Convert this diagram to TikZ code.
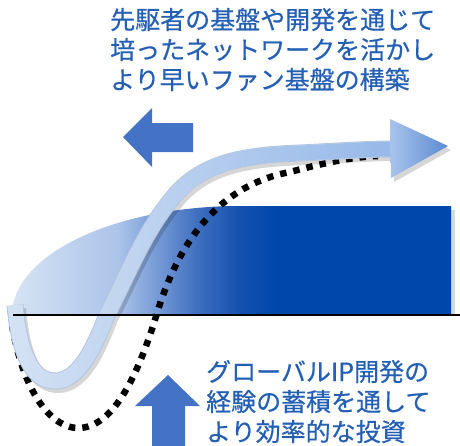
\documentclass[tikz,border=0pt]{standalone}
\usepackage{fontspec}
\newfontfamily\jp[FakeBold=0.5]{Noto Sans CJK JP}
\usetikzlibrary{fadings}
\definecolor{txtblue}{RGB}{35,95,180}
\definecolor{arrblue}{RGB}{68,114,196}
\definecolor{deepblue}{RGB}{0,71,171}
\definecolor{ca}{RGB}{214,227,244}
\definecolor{cb}{RGB}{172,196,233}
\definecolor{cc}{RGB}{124,159,216}
\definecolor{cd}{RGB}{64,112,192}
\definecolor{ce}{RGB}{20,80,176}
\definecolor{bandlight}{RGB}{212,226,244}
\definecolor{bandedge}{RGB}{180,197,222}
\definecolor{banddark}{RGB}{150,184,233}
\definecolor{headl}{RGB}{168,196,236}
\definecolor{headr}{RGB}{92,138,210}
\pgfdeclarehorizontalshading{areashade}{100bp}{color(0bp)=(ca); color(25bp)=(ca); color(37bp)=(cb); color(41bp)=(cc); color(46bp)=(cd); color(51bp)=(ce); color(55bp)=(deepblue); color(100bp)=(deepblue)}
\tikzfading[name=fadein, left color=transparent!100, right color=transparent!0]
\tikzset{
  jptext/.style={anchor=base west, inner sep=0pt, text=txtblue, font=\jp\fontsize{25}{30}\selectfont},
  bandpath/.style={insert path={(15,305) .. controls (20,360) and (35,381) .. (55,381) .. controls (80,381) and (95,345) .. (107,315) .. controls (130,270) and (145,230) .. (175,195) .. controls (205,160) and (250,155) .. (300,153) .. controls (340,151) and (370,149) .. (392,149)}},
  headpath/.style={insert path={(390,119) -- (448,146) -- (391,178) -- cycle}},
  dotline/.style={line width=6.5pt, dash pattern=on 6.5pt off 7pt, black},
  flatarrow/.style={fill=arrblue}
}
\begin{document}
\begin{tikzpicture}[x=1pt,y=-1pt]
\useasboundingbox (0,0) rectangle (460,445);
\clip (0,0) rectangle (460,445);
% blue area
\shade[shading=areashade] (12,315) .. controls (12,255) and (114,206) .. (240,206) -- (451,206) -- (451,315) -- cycle;
\fill[black,opacity=0.15] (451,210) rectangle (455,315);
% dotted curve
\draw[dotline] (12,325) .. controls (25,400) and (55,428) .. (78,428) .. controls (115,428) and (140,370) .. (158,310) .. controls (180,240) and (220,185) .. (290,172) .. controls (320,164) and (350,157) .. (378,156);
% band shadow
\begin{scope}[shift={(3,4)}]
\draw[line width=16pt, black, opacity=0.16] [bandpath];
\fill[black, opacity=0.16] [headpath];
\end{scope}
% band
\draw[line width=17pt, bandedge] [bandpath];
\draw[line width=15pt, bandlight] [bandpath];
\draw[line width=15pt, banddark, path fading=fadein] [bandpath];
\shade[left color=headl, right color=headr] [headpath];
% baseline
\draw[line width=2.5pt, black] (13,315) -- (460,315);
% flat arrows
\path[flatarrow] (123,137) -- (152,108) -- (152,123) -- (193,123) -- (193,152) -- (152,152) -- (152,167) -- cycle;
\path[flatarrow] (168,375) -- (200,406) -- (185,406) -- (185,450) -- (152,450) -- (152,406) -- (135,406) -- cycle;
% texts
\node[jptext] (t1) at (110,29) {先駆者の基盤や開発を通じて};
\node[jptext] (t2) at (110,59) {培ったネットワークを活かし};
\node[jptext] (t3) at (110,89) {より早いファン基盤の構築};
\node[jptext] (b1) at (206,381) {グローバルIP開発の};
\node[jptext] (b2) at (206,411) {経験の蓄積を通して};
\node[jptext] (b3) at (206,441) {より効率的な投資};
\end{tikzpicture}
\end{document}
